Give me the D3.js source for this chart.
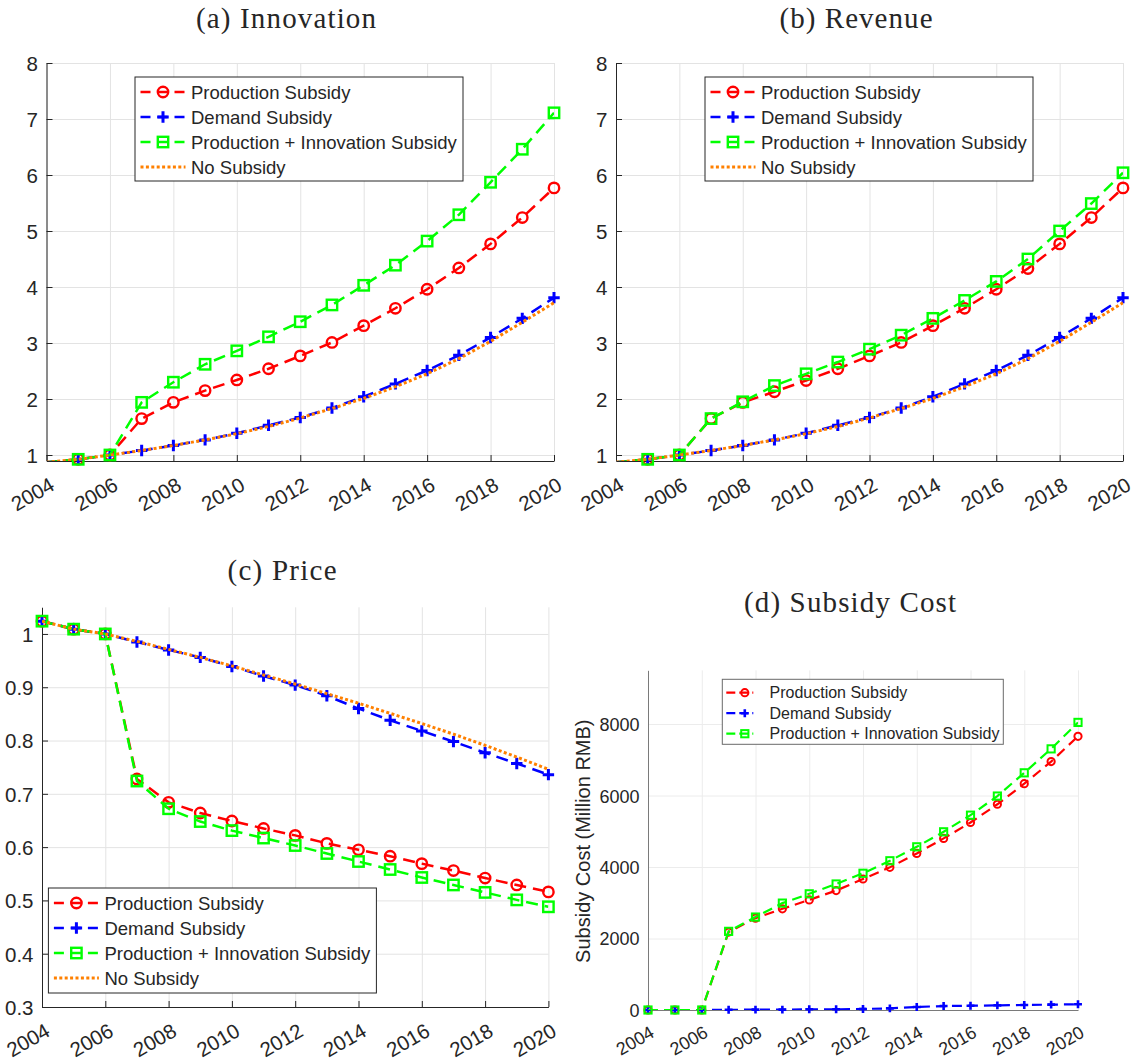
<!DOCTYPE html>
<html>
<head>
<meta charset="utf-8">
<script src="https://cdn.jsdelivr.net/npm/d3@7"></script>
<style>
  body { margin: 0; background: #fff; }
  svg { display: block; }
  text { font-family: "Liberation Sans", Arial, sans-serif; fill: #262626; }
</style>
</head>
<body>
<svg id="chart" width="1137" height="1063"></svg>
<script>
// ---- data ----
var years = [2004, 2005, 2006, 2007, 2008, 2009, 2010, 2011, 2012, 2013, 2014, 2015, 2016, 2017, 2018, 2019, 2020]
var yearTicks = [2004, 2006, 2008, 2010, 2012, 2014, 2016, 2018, 2020]
var seriesNames = ["Production Subsidy", "Demand Subsidy", "Production + Innovation Subsidy", "No Subsidy"]

// (a) Innovation
var innovProd   = [0.87, 0.923, 1.0, 1.65, 1.94, 2.15, 2.34, 2.54, 2.77, 3.01, 3.31, 3.62, 3.96, 4.34, 4.77, 5.24, 5.77]
var innovDemand = [0.87, 0.923, 1.0, 1.08, 1.17, 1.27, 1.39, 1.53, 1.67, 1.84, 2.04, 2.27, 2.51, 2.78, 3.10, 3.44, 3.81]
var innovProdInn= [0.87, 0.923, 1.0, 1.94, 2.30, 2.62, 2.86, 3.11, 3.38, 3.68, 4.03, 4.39, 4.82, 5.29, 5.87, 6.46, 7.11]
var innovNone   = [0.87, 0.923, 1.0, 1.08, 1.17, 1.27, 1.38, 1.51, 1.66, 1.83, 2.01, 2.22, 2.45, 2.72, 3.03, 3.37, 3.72]

// (b) Revenue
var revProd    = [0.87, 0.923, 1.0, 1.65, 1.94, 2.13, 2.33, 2.54, 2.77, 3.01, 3.31, 3.62, 3.96, 4.33, 4.77, 5.24, 5.77]
var revDemand  = [0.87, 0.923, 1.0, 1.08, 1.17, 1.27, 1.39, 1.53, 1.67, 1.84, 2.04, 2.27, 2.51, 2.78, 3.10, 3.44, 3.81]
var revProdInn = [0.87, 0.923, 1.0, 1.65, 1.95, 2.24, 2.45, 2.66, 2.89, 3.14, 3.44, 3.76, 4.10, 4.50, 5.00, 5.49, 6.04]
var revNone    = [0.87, 0.923, 1.0, 1.08, 1.17, 1.27, 1.38, 1.51, 1.66, 1.83, 2.01, 2.22, 2.45, 2.72, 3.03, 3.37, 3.72]

// (c) Price
var priceProd    = [1.024, 1.009, 1.0, 0.728, 0.684, 0.664, 0.649, 0.635, 0.622, 0.607, 0.595, 0.583, 0.569, 0.556, 0.542, 0.529, 0.516]
var priceDemand  = [1.024, 1.009, 1.0, 0.985, 0.970, 0.956, 0.939, 0.921, 0.904, 0.884, 0.860, 0.838, 0.818, 0.798, 0.777, 0.757, 0.736]
var priceProdInn = [1.024, 1.009, 1.0, 0.724, 0.672, 0.648, 0.631, 0.617, 0.603, 0.588, 0.573, 0.558, 0.543, 0.529, 0.515, 0.501, 0.488]
var priceNone    = [1.024, 1.009, 1.0, 0.986, 0.971, 0.956, 0.940, 0.923, 0.906, 0.888, 0.870, 0.851, 0.832, 0.812, 0.791, 0.769, 0.746]

// (d) Subsidy cost (million RMB)
var costProd    = [0, 0, 0, 2180, 2570, 2830, 3080, 3340, 3665, 3990, 4380, 4800, 5245, 5755, 6330, 6950, 7655]
var costDemand  = [0, 0, 0, 5, 10, 10, 20, 20, 30, 45, 85, 110, 120, 130, 140, 150, 160]
var costProdInn = [0, 0, 0, 2200, 2600, 2990, 3250, 3525, 3825, 4175, 4565, 4985, 5450, 5985, 6635, 7305, 8045]

var ticksAB = [1, 2, 3, 4, 5, 6, 7, 8]
var ticksC = [0.3, 0.4, 0.5, 0.6, 0.7, 0.8, 0.9, 1]
var ticksD = [0, 2000, 4000, 6000, 8000]

// ---- styles ----
var styles = [
    {color: "#ff0000", marker: "circle", dotted: false},
    {color: "#0000ff", marker: "plus", dotted: false},
    {color: "#00ff00", marker: "square", dotted: false},
    {color: "#ff8000", marker: null, dotted: true}
]

var svg = d3.select("#chart")

var big = {tickFont: 20.5, legFont: 18.5, lw: 2.5, dash: "12,7", dot: "3,2.4", dotW: 3, mr: 5.2, msw: 2.4,
           axisColor: "#262626", gridColor: "#e3e3e3", tickLen: 6, rowH: 25, row0: 15,
           sampleX0: 5.5, sampleX1: 50.5, sampleM: 28, textX: 56, legDash: "10,7"}
var small = {tickFont: 18, legFont: 16, lw: 2.2, dash: "10,6", dot: "3,2.4", dotW: 2.6, mr: 3.6, msw: 2,
           axisColor: "#7a7a7a", gridColor: "#ececec", tickLen: 0, rowH: 20.5, row0: 13.4,
           sampleX0: 4, sampleX1: 31, sampleM: 22.5, textX: 47.2, legDash: "9,4"}

var panels = [
    {title: "(a) Innovation", tx: 286, ty: 28, tw: 180, x0: 46.5, x1: 554, yDom: [0.893, 8], yRange: [461, 63],
     yTicks: ticksAB, fmt: d3.format("d"), data: [innovProd, innovDemand, innovProdInn, innovNone],
     leg: {x: 135, y: 77, w: 328, h: 104}, st: big},
    {title: "(b) Revenue", tx: 856, ty: 28, tw: 153, x0: 616, x1: 1123, yDom: [0.893, 8], yRange: [461, 63],
     yTicks: ticksAB, fmt: d3.format("d"), data: [revProd, revDemand, revProdInn, revNone],
     leg: {x: 705, y: 77, w: 328, h: 104}, st: big},
    {title: "(c) Price", tx: 282, ty: 579.5, tw: 109, x0: 42, x1: 548.4, yDom: [0.3, 1.05], yRange: [1007, 607.3],
     yTicks: ticksC, fmt: function(d) { return d == 1 ? "1" : d3.format(".1f")(d) },
     data: [priceProd, priceDemand, priceProdInn, priceNone],
     leg: {x: 48.4, y: 888, w: 328, h: 105}, st: big},
    {title: "(d) Subsidy Cost", tx: 850, ty: 612, tw: 212, x0: 648, x1: 1078, yDom: [0, 9500], yRange: [1010, 670.4],
     yTicks: ticksD, fmt: d3.format("d"), data: [costProd, costDemand, costProdInn],
     leg: {x: 722.3, y: 679.3, w: 281, h: 65}, st: small, ylabel: "Subsidy Cost (Million RMB)"}
]

function drawMarker(g, type, cx, cy, r, color, sw) {
    if (type == "circle") {
        g.append("circle").attr("cx", cx).attr("cy", cy).attr("r", r)
            .attr("fill", "none").attr("stroke", color).attr("stroke-width", sw)
    } else if (type == "square") {
        g.append("rect").attr("x", cx - r).attr("y", cy - r).attr("width", 2 * r).attr("height", 2 * r)
            .attr("fill", "none").attr("stroke", color).attr("stroke-width", sw)
    } else if (type == "plus") {
        var p = r * 1.1
        g.append("path").attr("d", `M${cx - p},${cy}H${cx + p}M${cx},${cy - p}V${cy + p}`)
            .attr("stroke", color).attr("stroke-width", sw + 0.6).attr("fill", "none")
    }
}

panels.forEach(function(p, pi) {
    var st = p.st
    var g = svg.append("g")
    var x = d3.scaleLinear().domain([2004, 2020]).range([p.x0, p.x1])
    var y = d3.scaleLinear().domain(p.yDom).range(p.yRange)
    var top = p.yRange[1], bottom = p.yRange[0]

    // grid
    g.append("g").attr("transform", `translate(0,${bottom})`)
        .call(d3.axisBottom(x).tickValues(yearTicks).tickSize(-(bottom - top)).tickFormat(""))
        .call(a => a.select(".domain").remove())
        .selectAll("line").attr("stroke", st.gridColor)
    g.append("g").attr("transform", `translate(${p.x0},0)`)
        .call(d3.axisLeft(y).tickValues(p.yTicks).tickSize(-(p.x1 - p.x0)).tickFormat(""))
        .call(a => a.select(".domain").remove())
        .selectAll("line").attr("stroke", st.gridColor)

    // axes
    var xAxis = g.append("g").attr("transform", `translate(0,${bottom})`)
        .call(d3.axisBottom(x).tickValues(yearTicks).tickSizeInner(-st.tickLen).tickSizeOuter(0).tickFormat(d3.format("d")))
    xAxis.select(".domain").attr("stroke", st.axisColor)
    xAxis.selectAll("line").attr("stroke", st.axisColor)
    xAxis.selectAll("text")
        .attr("x", 0).attr("y", 0).attr("dy", 0)
        .attr("text-anchor", "end")
        .attr("transform", pi == 3 ? "translate(7,26) rotate(-30)" : "translate(9,28) rotate(-30)")
        .style("font-size", st.tickFont + "px").attr("fill", "#262626")

    var yAxis = g.append("g").attr("transform", `translate(${p.x0},0)`)
        .call(d3.axisLeft(y).tickValues(p.yTicks).tickSizeInner(-st.tickLen).tickSizeOuter(0).tickPadding(8.5).tickFormat(p.fmt))
    yAxis.select(".domain").attr("stroke", st.axisColor)
    yAxis.selectAll("line").attr("stroke", st.axisColor)
    yAxis.selectAll("text").style("font-size", st.tickFont + "px").attr("fill", "#262626").attr("dy", "0.36em")

    // clip for lines
    var clipId = "clip" + pi
    svg.append("clipPath").attr("id", clipId).append("rect")
        .attr("x", p.x0).attr("y", top).attr("width", p.x1 - p.x0).attr("height", bottom - top)

    var line = d3.line().x((d, i) => x(years[i])).y(d => y(d))

    p.data.forEach(function(vals, si) {
        var s = styles[si]
        var sg = g.append("g")
        sg.append("path").datum(vals)
            .attr("d", line)
            .attr("clip-path", `url(#${clipId})`)
            .attr("fill", "none")
            .attr("stroke", s.color)
            .attr("stroke-width", s.dotted ? st.dotW : st.lw)
            .attr("stroke-dasharray", s.dotted ? st.dot : st.dash)
        if (s.marker) {
            vals.forEach(function(v, i) {
                if (v < p.yDom[0] || v > p.yDom[1]) return
                drawMarker(sg, s.marker, x(years[i]), y(v), st.mr, s.color, st.msw)
            })
        }
    })

    // legend
    var L = p.leg
    var lg = g.append("g").attr("transform", `translate(${L.x},${L.y})`)
    lg.append("rect").attr("width", L.w).attr("height", L.h)
        .attr("fill", "#fff").attr("stroke", pi == 3 ? "#6a6a6a" : "#262626").attr("stroke-width", 1)
    p.data.forEach(function(vals, si) {
        var s = styles[si]
        var ry = st.row0 + si * st.rowH
        lg.append("line").attr("x1", st.sampleX0).attr("x2", st.sampleX1).attr("y1", ry).attr("y2", ry)
            .attr("stroke", s.color)
            .attr("stroke-width", s.dotted ? st.dotW : st.lw)
            .attr("stroke-dasharray", s.dotted ? st.dot : st.legDash)
        if (s.marker) drawMarker(lg, s.marker, st.sampleM, ry, st.mr, s.color, st.msw)
        lg.append("text").attr("x", st.textX).attr("y", ry).attr("dy", "0.36em")
            .style("font-size", st.legFont + "px").text(seriesNames[si])
    })

    // title
    svg.append("text").attr("x", p.tx).attr("y", p.ty)
        .attr("text-anchor", "middle")
        .attr("textLength", p.tw).attr("lengthAdjust", "spacing")
        .style("font-family", "'Liberation Serif', 'Times New Roman', serif")
        .style("font-size", "29px").attr("fill", "#111")
        .text(p.title)

    if (p.ylabel) {
        svg.append("text")
            .attr("transform", `translate(583,${(top + bottom) / 2 + 1}) rotate(-90)`)
            .attr("text-anchor", "middle").attr("dy", "0.35em")
            .style("font-size", "20px")
            .text(p.ylabel)
    }
})
</script>
</body>
</html>
